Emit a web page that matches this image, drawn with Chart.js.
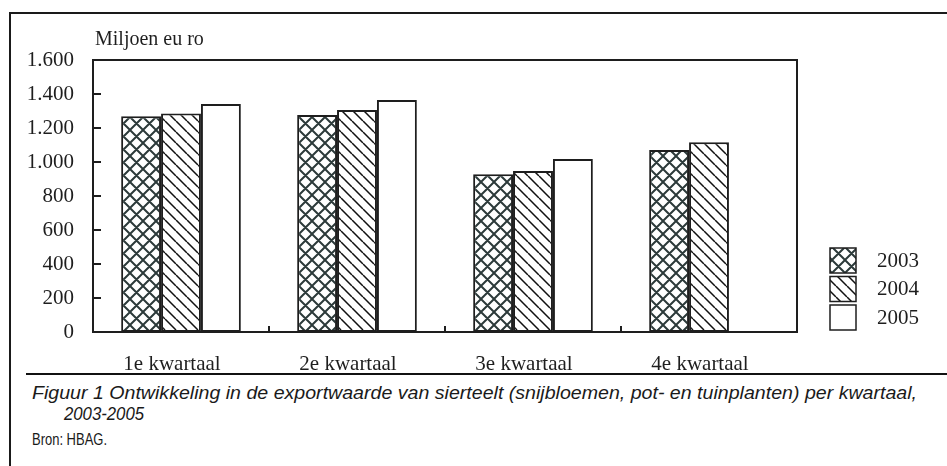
<!DOCTYPE html>
<html>
<head>
<meta charset="utf-8">
<script src="https://cdn.jsdelivr.net/npm/chart.js@4/dist/chart.umd.min.js"></script>
<style>
  body { margin: 0; background: #fff; }
  #wrap { position: relative; width: 947px; height: 466px; overflow: hidden; }
  #frame { position: absolute; left: 9px; top: 12px; width: 960px; height: 500px;
           border-top: 2px solid #1a1a1a; border-left: 2px solid #1a1a1a; }
  #rule { position: absolute; left: 26px; top: 373px; width: 930px; height: 0;
          border-top: 2px solid #111; }
  canvas { position: absolute; left: 0; top: 0; }
  .cap { position: absolute; white-space: nowrap; font-family: "Liberation Sans Narrow", "Liberation Sans", Arial, sans-serif;
         font-size: 18px; line-height: 22px; color: #1a1a1a; transform-origin: 0 0; }
</style>
</head>
<body>
<div id="wrap">
  <div id="frame"></div>
  <canvas id="chart" width="947" height="372"></canvas>
  <div id="rule"></div>
  <div class="cap" id="cap1" data-w="885" style="left:32px; top:382px; font-style:italic;">Figuur 1 Ontwikkeling in de exportwaarde van sierteelt (snijbloemen, pot- en tuinplanten) per kwartaal,</div>
  <div class="cap" id="cap2" data-w="80" style="left:64px; top:403px; font-style:italic;">2003-2005</div>
  <div class="cap" id="cap3" data-w="75" style="left:32px; top:429px; font-size:17px;">Bron: HBAG.</div>
</div>
<script>
const quarters = ["1e kwartaal", "2e kwartaal", "3e kwartaal", "4e kwartaal"];
const years = ["2003", "2004", "2005"];
const export2003 = [1269, 1276, 928, 1071];
const export2004 = [1286, 1306, 947, 1116];
const export2005 = [1341, 1365, 1018, null];
const yTicks = [0, 200, 400, 600, 800, 1000, 1200, 1400, 1600];
const yTitle = "Miljoen eu ro";

const serif = "'Liberation Serif', 'Times New Roman', serif";
const ink = "#1e1e1e";

// hatch fills
function makePattern(size, cross, color, width) {
    const c = document.createElement("canvas");
    c.width = size;
    c.height = size;
    const g = c.getContext("2d");
    g.fillStyle = "#fff";
    g.fillRect(0, 0, size, size);
    g.strokeStyle = color;
    g.lineWidth = width;
    g.beginPath();
    for (let k = -size; k <= size; k += size) {
        g.moveTo(k, 0);
        g.lineTo(k + size, size);
        if (cross) {
            g.moveTo(k, size);
            g.lineTo(k + size, 0);
        }
    }
    g.stroke();
    return g.createPattern(c, "repeat");
}

const fills = [
    makePattern(13, true, "#2c3a3a", 2),
    makePattern(11, false, "#111", 1.5),
    "#ffffff"
];
const seriesValues = [export2003, export2004, export2005];

const fmt = v => v.toLocaleString("nl-NL");

const decor = {
    id: "decor",
    afterDraw(chart) {
        const ctx = chart.ctx;
        const a = chart.chartArea;
        ctx.save();
        ctx.strokeStyle = ink;
        ctx.lineWidth = 2;
        ctx.strokeRect(a.left, a.top, a.right - a.left, a.bottom - a.top);

        // ticks point inwards
        ctx.beginPath();
        const ys = chart.scales.y;
        ys.ticks.forEach((t, i) => {
            const py = Math.round(ys.getPixelForTick(i));
            ctx.moveTo(a.left, py);
            ctx.lineTo(a.left + 8, py);
        });
        const n = quarters.length;
        const w = (a.right - a.left) / n;
        for (let i = 0; i < n; i++) {
            const px = Math.round(a.left + i * w);
            ctx.moveTo(px, a.bottom);
            ctx.lineTo(px, a.bottom - 6);
        }
        ctx.stroke();

        ctx.fillStyle = ink;
        ctx.font = "20px " + serif;
        ctx.textBaseline = "alphabetic";
        ctx.textAlign = "left";
        ctx.fillText(yTitle, 95, 45);

        // legend
        chart.data.datasets.forEach((ds, i) => {
            const top = 248 + i * 28.5;
            ctx.fillStyle = ds.backgroundColor;
            ctx.fillRect(830, top, 26, 25);
            ctx.lineWidth = 1.5;
            ctx.strokeStyle = ink;
            ctx.strokeRect(830, top, 26, 25);
            ctx.fillStyle = ink;
            ctx.font = "21px " + serif;
            ctx.textBaseline = "middle";
            ctx.fillText(ds.label, 877, top + 13);
        });
        ctx.restore();
    }
};

new Chart(document.getElementById("chart"), {
    type: "bar",
    data: {
        labels: quarters,
        datasets: years.map((y, i) => ({
            label: y,
            data: seriesValues[i],
            backgroundColor: fills[i],
            borderColor: ink,
            borderWidth: 2,
            borderSkipped: false
        }))
    },
    options: {
        responsive: false,
        animation: false,
        devicePixelRatio: 1,
        layout: { padding: { left: 0, top: 60, right: 150, bottom: 0 } },
        categoryPercentage: 0.68,
        barPercentage: 1.0,
        plugins: {
            legend: { display: false },
            tooltip: { enabled: false },
            title: { display: false }
        },
        scales: {
            x: {
                grid: { display: false },
                border: { display: false },
                ticks: {
                    font: { family: serif, size: 21 },
                    color: ink,
                    padding: 12,
                    labelOffset: -9,
                    maxRotation: 0
                },
                afterFit(s) { s.height = 40; }
            },
            y: {
                min: 0,
                max: 1600,
                afterBuildTicks(s) { s.ticks = yTicks.map(v => ({ value: v })); },
                grid: { display: false },
                border: { display: false },
                ticks: {
                    font: { family: serif, size: 21 },
                    color: ink,
                    padding: 11,
                    callback: v => fmt(v)
                },
                afterFit(s) { s.width = 93; }
            }
        }
    },
    plugins: [decor]
});

// fit each caption line to the width it has in the original
document.querySelectorAll(".cap").forEach(el => {
    const k = Number(el.dataset.w) / el.getBoundingClientRect().width;
    el.style.transform = "scaleX(" + k + ")";
});
</script>
</body>
</html>
